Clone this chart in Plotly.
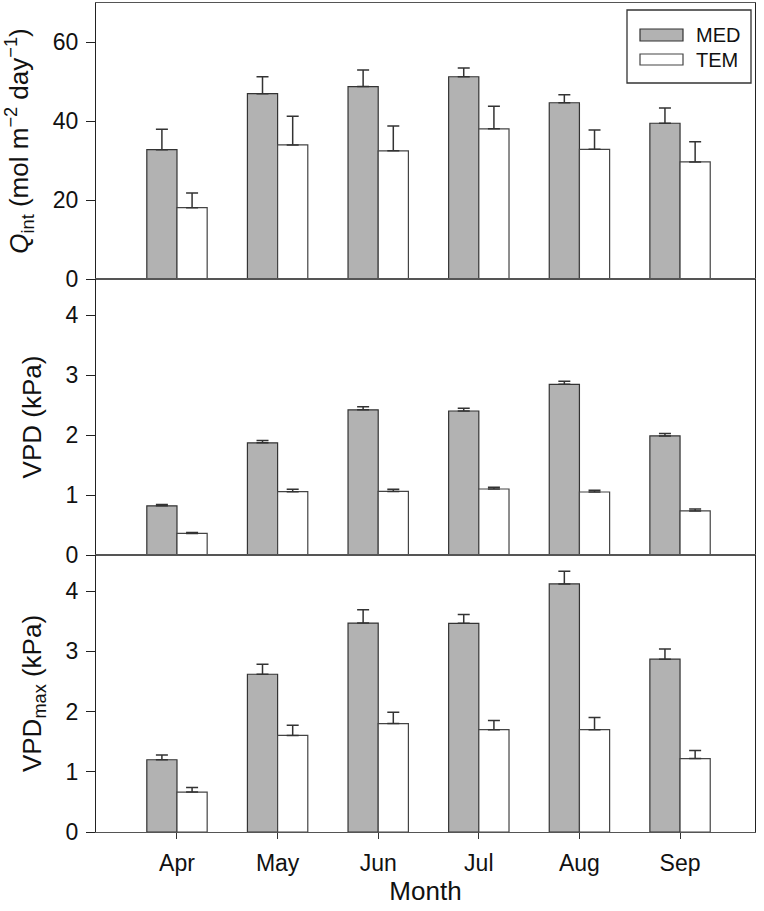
import plotly.graph_objects as go
from plotly.subplots import make_subplots

months = ["Apr", "May", "Jun", "Jul", "Aug", "Sep"]

qint_med = [32.8, 47.0, 48.8, 51.3, 44.7, 39.5]
qint_med_err = [5.2, 4.3, 4.2, 2.2, 2.0, 3.9]
qint_tem = [18.1, 34.0, 32.5, 38.1, 32.9, 29.7]
qint_tem_err = [3.7, 7.3, 6.3, 5.7, 4.9, 5.1]

vpd_med = [0.82, 1.87, 2.42, 2.40, 2.845, 1.985]
vpd_med_err = [0.02, 0.04, 0.05, 0.045, 0.05, 0.04]
vpd_tem = [0.36, 1.055, 1.06, 1.10, 1.05, 0.735]
vpd_tem_err = [0.015, 0.04, 0.035, 0.03, 0.03, 0.03]

vpdmax_med = [1.20, 2.62, 3.47, 3.466, 4.12, 2.87]
vpdmax_med_err = [0.077, 0.166, 0.22, 0.144, 0.21, 0.17]
vpdmax_tem = [0.663, 1.603, 1.80, 1.70, 1.70, 1.22]
vpdmax_tem_err = [0.077, 0.17, 0.19, 0.15, 0.20, 0.135]

FONT = "Liberation Sans, Arial, sans-serif"
MED_FILL = "#b2b2b2"
TEM_FILL = "#ffffff"
EDGE = "#333333"
TXT = "#111111"

fig = make_subplots(rows=3, cols=1, shared_xaxes=True, vertical_spacing=0)

panels = [
    (qint_med, qint_med_err, qint_tem, qint_tem_err),
    (vpd_med, vpd_med_err, vpd_tem, vpd_tem_err),
    (vpdmax_med, vpdmax_med_err, vpdmax_tem, vpdmax_tem_err),
]

for i, (m, me, t, te) in enumerate(panels, start=1):
    fig.add_trace(go.Bar(
        x=months, y=m, name="MED", showlegend=False,
        marker=dict(color=MED_FILL, line=dict(color=EDGE, width=1.2)),
        error_y=dict(type="data", array=me, arrayminus=[0]*len(me), symmetric=False,
                     width=6, thickness=1.5, color=EDGE),
    ), row=i, col=1)
    fig.add_trace(go.Bar(
        x=months, y=t, name="TEM", showlegend=False,
        marker=dict(color=TEM_FILL, line=dict(color="#444444", width=1.2)),
        error_y=dict(type="data", array=te, arrayminus=[0]*len(te), symmetric=False,
                     width=6, thickness=1.5, color=EDGE),
    ), row=i, col=1)

# plot area in pixels: left 96, right 755, top 3, bottom 832 (fig 764x911)
top, bottom = 3, 832
ph = bottom - top
def py(v):
    return (bottom - v) / ph

fig.update_layout(
    width=764, height=911,
    margin=dict(l=96, r=9, t=3, b=79, autoexpand=False),
    paper_bgcolor="white", plot_bgcolor="white",
    barmode="group", bargap=0.4, bargroupgap=0,
    font=dict(family=FONT, color=TXT, size=23),
    showlegend=False,
)

fig.update_yaxes(domain=[py(279), 1.0], row=1, col=1)
fig.update_yaxes(domain=[py(555), py(279)], row=2, col=1)
fig.update_yaxes(domain=[0.0, py(555)], row=3, col=1)

yranges = [[0, 70], [0, 4.6], [0, 4.6]]
yticks = [[0, 20, 40, 60], [0, 1, 2, 3, 4], [0, 1, 2, 3, 4]]
ytitles = [
    "<i>Q</i><sub>int</sub> (mol m<sup>−2</sup> day<sup>−1</sup>)",
    "VPD (kPa)",
    "VPD<sub>max</sub> (kPa)",
]
for i in range(3):
    fig.update_yaxes(
        range=yranges[i], tickvals=yticks[i], ticks="outside", ticklen=9,
        tickwidth=1.2, tickcolor="#222222", showline=True, linecolor="#222222",
        linewidth=1.3, mirror=True, showgrid=False, zeroline=False, automargin=False,
        tickfont=dict(size=23, family=FONT, color=TXT),
        title=dict(text=ytitles[i], font=dict(size=26, family=FONT, color=TXT), standoff=16),
        ticklabelstandoff=3,
        row=i+1, col=1,
    )

for i in range(3):
    fig.update_xaxes(
        range=[-0.805, 5.745], showline=True, linecolor="#555555", linewidth=1.1,
        mirror=True, showgrid=False, zeroline=False, automargin=False,
        ticks="outside" if i == 2 else "", ticklen=6, tickwidth=1.2, tickcolor="#333333",
        showticklabels=(i == 2),
        tickfont=dict(size=23, family=FONT, color=TXT),
        row=i+1, col=1,
    )
fig.update_xaxes(title=dict(text="Month", font=dict(size=26, family=FONT, color=TXT), standoff=0),
                 ticklabelstandoff=4, row=3, col=1)

# legend box (drawn in top panel, paper coordinates)
left, right = 96, 755
pw = right - left
def px(v):
    return (v - left) / pw

fig.add_shape(type="rect", xref="paper", yref="paper",
              x0=px(627), x1=px(751), y0=py(83), y1=py(10),
              line=dict(color="#333333", width=1.3), fillcolor="white", layer="above")
fig.add_shape(type="rect", xref="paper", yref="paper",
              x0=px(640), x1=px(683), y0=py(41), y1=py(29),
              line=dict(color=EDGE, width=1.2), fillcolor=MED_FILL, layer="above")
fig.add_shape(type="rect", xref="paper", yref="paper",
              x0=px(640), x1=px(683), y0=py(65), y1=py(54),
              line=dict(color="#444444", width=1.2), fillcolor=TEM_FILL, layer="above")
fig.add_annotation(text="MED", xref="paper", yref="paper", x=px(694), y=py(35),
                   xanchor="left", yanchor="middle", showarrow=False,
                   font=dict(size=20, family=FONT, color=TXT))
fig.add_annotation(text="TEM", xref="paper", yref="paper", x=px(694), y=py(60),
                   xanchor="left", yanchor="middle", showarrow=False,
                   font=dict(size=20, family=FONT, color=TXT))

fig.write_html("out.html", config={"displayModeBar": False},
               post_script="document.body.style.margin='0px';document.body.style.padding='0px';")
